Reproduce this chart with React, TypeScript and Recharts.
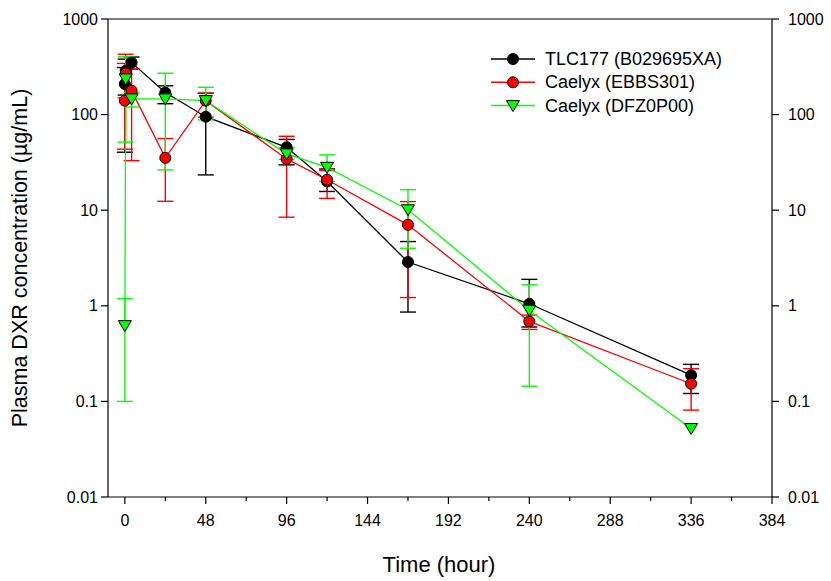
import React from 'react';
import { LineChart, Line, XAxis, YAxis, ErrorBar } from 'recharts';

const FONT = '"Liberation Sans", Arial, sans-serif';

// TLC177 (B029695XA)
const tlcTime = [0, 0.5, 4, 24, 48, 96, 120, 168, 240, 336];
const tlcConc = [209, 288, 350, 170, 95, 45.5, 20, 2.87, 1.05, 0.188];
const tlcLow = [40.4, 160, 300, 130, 23.4, 29.8, 15.7, 0.86, 0.6, 0.121];
const tlcHigh = [311, 380, 400, 200, 167, 55, 27, 4.7, 1.89, 0.244];

// Caelyx (EBBS301)
const ebbTime = [0, 0.5, 4, 24, 48, 96, 120, 168, 240, 336];
const ebbConc = [140, 270, 178, 35.3, 140, 34.4, 20.8, 7.03, 0.687, 0.153];
const ebbLow = [43.5, 150, 33, 12.4, 94, 8.45, 13.3, 1.22, 0.566, 0.081];
const ebbHigh = [343, 428, 300, 56.2, 168, 59.3, 26, 12.3, 0.8, 0.22];

// Caelyx (DFZ0P00)
const dfzTime = [0, 0.5, 4, 24, 48, 96, 120, 168, 240, 336];
const dfzConc = [0.62, 236, 146, 146, 140, 38.8, 28.1, 10.1, 0.895, 0.052];
const dfzLow = [0.1, 51.5, 120, 26.4, 88, 34, 20, 4.0, 0.144, null];
const dfzHigh = [1.19, 402, 170, 271, 193, 45, 37.9, 16.4, 1.66, null];

const xTicks = [0, 24, 48, 72, 96, 120, 144, 168, 192, 216, 240, 264, 288, 312, 336, 360, 384];
const yTicks = [0.01, 0.1, 1, 10, 100, 1000];

const build = (time: number[], conc: number[], low: (number | null)[], high: (number | null)[]) =>
  time.map((t, i) => ({
    time: t,
    conc: conc[i],
    err: low[i] == null ? null : [conc[i] - (low[i] as number), (high[i] as number) - conc[i]],
  }));

const series = [
  { name: 'TLC177 (B029695XA)', color: '#000000', shape: 'circle', fill: '#000000', data: build(tlcTime, tlcConc, tlcLow, tlcHigh) },
  { name: 'Caelyx (EBBS301)', color: '#ff0000', shape: 'circle', fill: '#ff0000', data: build(ebbTime, ebbConc, ebbLow, ebbHigh) },
  { name: 'Caelyx (DFZ0P00)', color: '#00ff00', shape: 'triangle', fill: '#00ff00', data: build(dfzTime, dfzConc, dfzLow, dfzHigh) },
];

function Marker({ cx, cy, shape, fill }: { cx: number; cy: number; shape: string; fill: string }) {
  if (cx == null || cy == null) return null;
  if (shape === 'triangle') {
    return <polygon points={`${cx - 6.5},${cy - 5} ${cx + 6.5},${cy - 5} ${cx},${cy + 6}`} fill={fill} stroke="#000" strokeWidth={1} />;
  }
  return <circle cx={cx} cy={cy} r={5.5} fill={fill} stroke="#000" strokeWidth={1} />;
}

function TimeTick({ x, y, payload }: any) {
  const major = payload.value % 48 === 0;
  return (
    <g>
      <line x1={x} x2={x} y1={y} y2={y + (major ? 7 : 4)} stroke="#000" strokeWidth={1.2} />
      {major && (
        <text x={x} y={y + 29} textAnchor="middle" fontSize={16} fontFamily={FONT} fill="#000">
          {payload.value}
        </text>
      )}
    </g>
  );
}

function LegendBox() {
  return (
    <svg width={260} height={75} style={{ position: 'absolute', left: 486, top: 47 }}>
      {series.map((s, i) => {
        const y = 12 + i * 23.3;
        return (
          <g key={s.name}>
            <line x1={5} x2={49} y1={y} y2={y} stroke={s.color} strokeWidth={1.5} />
            <Marker cx={27} cy={y} shape={s.shape} fill={s.fill} />
            <text x={59} y={y + 6} fontSize={18} fontFamily={FONT} fill="#000">{s.name}</text>
          </g>
        );
      })}
    </svg>
  );
}

export default function App() {
  return (
    <div style={{ position: 'absolute', left: 0, top: 0, width: 831, height: 581, background: '#fff' }}>
      <LineChart width={831} height={581} margin={{ top: 18, right: 0, bottom: 0, left: 0 }}>
        <XAxis
          dataKey="time"
          type="number"
          domain={[-10, 384]}
          ticks={xTicks}
          interval={0}
          allowDataOverflow
          height={84}
          tickSize={0}
          tickMargin={0}
          tickLine={false}
          tick={<TimeTick />}
          axisLine={{ stroke: '#000', strokeWidth: 1.2 }}
          label={{
            content: () => (
              <text x={439} y={572} textAnchor="middle" fontSize={22} fontFamily={FONT} fill="#000">Time (hour)</text>
            ),
          }}
        />
        <XAxis xAxisId="top" orientation="top" type="number" domain={[-10, 384]} height={1} tick={false} tickLine={false} axisLine={{ stroke: '#000', strokeWidth: 1.2 }} />
        <YAxis
          yAxisId="left"
          type="number"
          scale="log"
          domain={[0.01, 1000]}
          ticks={yTicks}
          interval={0}
          allowDataOverflow
          width={108}
          tickSize={7}
          tickMargin={3}
          tick={{ fill: '#000', fontSize: 16, fontFamily: FONT }}
          tickLine={{ stroke: '#000', strokeWidth: 1.2 }}
          axisLine={{ stroke: '#000', strokeWidth: 1.2 }}
          label={{
            content: () => (
              <text x={27} y={258} transform="rotate(-90 27 258)" textAnchor="middle" fontSize={21.5} fontFamily={FONT} fill="#000">
                Plasma DXR concentration (µg/mL)
              </text>
            ),
          }}
        />
        <YAxis
          yAxisId="right"
          orientation="right"
          type="number"
          scale="log"
          domain={[0.01, 1000]}
          ticks={yTicks}
          interval={0}
          allowDataOverflow
          width={59}
          tickSize={7}
          tickMargin={9}
          tick={{ fill: '#000', fontSize: 16, fontFamily: FONT }}
          tickLine={{ stroke: '#000', strokeWidth: 1.2 }}
          axisLine={{ stroke: '#000', strokeWidth: 1.2 }}
        />
        {series.map((s) => (
          <Line
            key={s.name}
            name={s.name}
            data={s.data}
            dataKey="conc"
            yAxisId="left"
            stroke={s.color}
            strokeWidth={1.3}
            isAnimationActive={false}
            dot={(p: any) => <Marker key={`${s.name}-${p.index}`} cx={p.cx} cy={p.cy} shape={s.shape} fill={s.fill} />}
            activeDot={false}
          >
            <ErrorBar dataKey="err" direction="y" width={8} stroke={s.color} strokeWidth={1.4} isAnimationActive={false} />
          </Line>
        ))}
      </LineChart>
      <LegendBox />
    </div>
  );
}
